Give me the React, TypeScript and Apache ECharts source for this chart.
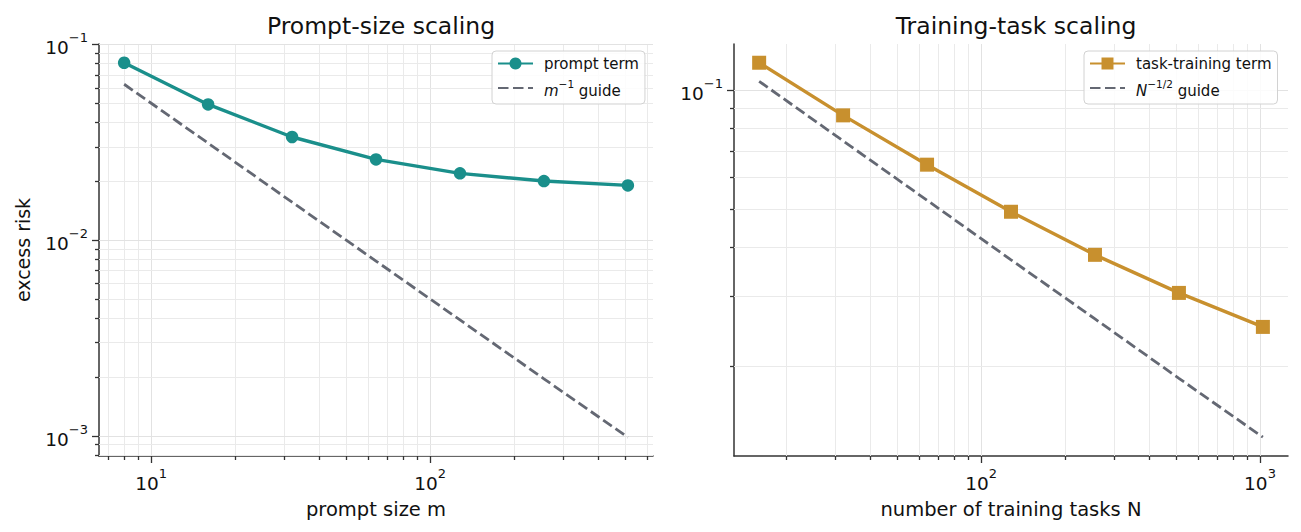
import React, { useEffect, useRef } from "react";
import * as echarts from "echarts";

// ---- data ----
const promptSizes = [8, 16, 32, 64, 128, 256, 512];
const promptTerm = [0.0805, 0.0493, 0.0336, 0.0258, 0.0219, 0.02, 0.019];
const promptGuide = [0.0625, 0.03125, 0.0156, 0.0078, 0.0039, 0.00195, 0.00098];

const taskCounts = [16, 32, 64, 128, 256, 512, 1024];
const taskTerm = [0.117, 0.0861, 0.0646, 0.0491, 0.0382, 0.0306, 0.0251];
const taskGuide = [0.105, 0.0742, 0.0525, 0.0371, 0.0263, 0.0186, 0.0132];

// ---- ticks ----
const leftXMajor = [10, 100];
const leftXMinor = [7, 8, 9, 20, 30, 40, 50, 60, 70, 80, 90, 200, 300, 400, 500, 600];
const leftYMajor = [0.001, 0.01, 0.1];
const leftYMinor = [
  0.0008, 0.0009, 0.002, 0.003, 0.004, 0.005, 0.006, 0.007, 0.008, 0.009,
  0.02, 0.03, 0.04, 0.05, 0.06, 0.07, 0.08, 0.09,
];
const rightXMajor = [100, 1000];
const rightXMinor = [20, 30, 40, 50, 60, 70, 80, 90, 200, 300, 400, 500, 600, 700, 800, 900];
const rightYMajor = [0.1];
const rightYMinor = [0.02, 0.03, 0.04, 0.05, 0.06, 0.07, 0.08, 0.09];

// ---- axis ranges ----
const leftXRange = [6.5, 630];
const leftYRange = [0.000786, 0.1004];
const rightXRange = [13.0, 1260];
const rightYRange = [0.01183, 0.1305];

// ---- texts ----
const titles = ["Prompt-size scaling", "Training-task scaling"];
const xNames = ["prompt size m", "number of training tasks N"];
const yName = "excess risk";
const seriesNames = ["prompt term", "m guide", "task-training term", "N guide"];

const FONT = "DejaVu Sans";
const TEAL = "#1a8f8b";
const GOLD = "#c8902e";
const GUIDE = "#646873";
const INK = "#111111";

const zip = (xs: number[], ys: number[]) => xs.map((x, i) => [x, ys[i]]);

const tickFormatter = (v: number) => {
  const e = Math.log10(v);
  const r = Math.round(e);
  if (Math.abs(e - r) > 1e-6) return "";
  return `{b|10}{s|${r < 0 ? "\u2212" : ""}${Math.abs(r)}}`;
};

const tickRich = {
  b: { fontSize: 18.5, fontFamily: FONT, color: INK, lineHeight: 26, verticalAlign: "bottom" },
  s: { fontSize: 13, fontFamily: FONT, color: INK, lineHeight: 14, verticalAlign: "top" },
};

function gridData(
  xMaj: number[],
  xMin: number[],
  yMaj: number[],
  yMin: number[],
  xr: number[],
  yr: number[]
) {
  return [
    ...xMaj.map((v) => [v, yr[0], 0, 1]),
    ...xMin.map((v) => [v, yr[0], 0, 0]),
    ...yMaj.map((v) => [xr[0], v, 1, 1]),
    ...yMin.map((v) => [xr[0], v, 1, 0]),
  ];
}

function gridSeries(idx: number, xr: number[], yr: number[], data: number[][]) {
  return {
    type: "custom",
    xAxisIndex: idx,
    yAxisIndex: idx,
    silent: true,
    z: 1,
    clip: false,
    data,
    renderItem: (params: any, api: any) => {
      const orient = api.value(2);
      const major = api.value(3);
      const len = major ? 7 : 4;
      const gridColor = major ? "#e2e2e2" : "#eaeaea";
      if (orient === 0) {
        const v = api.value(0);
        const top = api.coord([v, yr[1]]);
        const bot = api.coord([v, yr[0]]);
        const x = Math.round(top[0]) + 0.5;
        return {
          type: "group",
          children: [
            {
              type: "line",
              shape: { x1: x, y1: top[1], x2: x, y2: bot[1] },
              style: { stroke: gridColor, lineWidth: 1 },
            },
            {
              type: "line",
              shape: { x1: x, y1: bot[1], x2: x, y2: bot[1] + len },
              style: { stroke: "#333333", lineWidth: 1.3 },
            },
          ],
        };
      }
      const v = api.value(1);
      const l = api.coord([xr[0], v]);
      const r = api.coord([xr[1], v]);
      const y = Math.round(l[1]) + 0.5;
      return {
        type: "group",
        children: [
          {
            type: "line",
            shape: { x1: l[0], y1: y, x2: r[0], y2: y },
            style: { stroke: gridColor, lineWidth: 1 },
          },
          {
            type: "line",
            shape: { x1: l[0] - len, y1: y, x2: l[0], y2: y },
            style: { stroke: "#333333", lineWidth: 1.3 },
          },
        ],
      };
    },
  };
}

function xAxisDef(idx: number, range: number[], name: string) {
  return {
    type: "log",
    logBase: 10,
    gridIndex: idx,
    min: range[0],
    max: range[1],
    name,
    nameLocation: "middle",
    nameGap: 43,
    nameTextStyle: { fontSize: 19.5, fontFamily: FONT, color: INK },
    axisLine: { show: true, onZero: false, lineStyle: { color: "#333333", width: 1.5 } },
    axisTick: { show: false },
    splitLine: { show: false },
    minorTick: { show: false },
    minorSplitLine: { show: false },
    axisLabel: {
      formatter: tickFormatter,
      rich: tickRich,
      margin: 11,
      showMinLabel: false,
      showMaxLabel: false,
      hideOverlap: false,
    },
  };
}

function yAxisDef(idx: number, range: number[], name: string) {
  return {
    type: "log",
    logBase: 10,
    gridIndex: idx,
    min: range[0],
    max: range[1],
    name,
    nameLocation: "middle",
    nameGap: 67,
    nameTextStyle: { fontSize: 19, fontFamily: FONT, color: INK },
    axisLine: { show: true, onZero: false, lineStyle: { color: "#333333", width: 1.5 } },
    axisTick: { show: false },
    splitLine: { show: false },
    minorTick: { show: false },
    minorSplitLine: { show: false },
    axisLabel: {
      formatter: tickFormatter,
      rich: tickRich,
      margin: 11,
      showMinLabel: false,
      showMaxLabel: false,
      hideOverlap: false,
    },
  };
}

const legendRich = {
  n: { fontSize: 15, fontFamily: FONT, color: INK },
  i: { fontSize: 15, fontFamily: FONT, color: INK, fontStyle: "italic", lineHeight: 20, verticalAlign: "bottom" },
  s: { fontSize: 10.5, fontFamily: FONT, color: INK, lineHeight: 12, verticalAlign: "top" },
  t: { fontSize: 15, fontFamily: FONT, color: INK, lineHeight: 20, verticalAlign: "bottom" },
};

const legendFormatter = (name: string) => {
  if (name === seriesNames[1]) return "{i|m}{s|\u22121}{t| guide}";
  if (name === seriesNames[3]) return "{i|N}{s|\u22121/2}{t| guide}";
  return `{n|${name}}`;
};

function legendDef(left: number, markerName: string, guideName: string) {
  return {
    data: [
      { name: markerName },
      { name: guideName, itemStyle: { opacity: 0, color: "rgba(0,0,0,0)", borderWidth: 0 } },
    ],
    orient: "vertical",
    left,
    top: 51,
    padding: [5, 6, 6, 5],
    itemWidth: 35,
    itemHeight: 15,
    itemGap: 7,
    backgroundColor: "rgba(255,255,255,0.85)",
    borderColor: "#d2d2d2",
    borderWidth: 1,
    borderRadius: 4,
    formatter: legendFormatter,
    textStyle: { fontSize: 15, fontFamily: FONT, color: INK, rich: legendRich, padding: [0, 0, 0, 6] },
  };
}

export default function App() {
  const ref = useRef<HTMLDivElement>(null);
  useEffect(() => {
    document.body.style.margin = "0";
    const chart = echarts.init(ref.current!, null, { renderer: "svg" });
    chart.setOption({
      animation: false,
      backgroundColor: "#ffffff",
      textStyle: { fontFamily: FONT },
      title: [
        {
          text: titles[0],
          left: 376,
          top: 9,
          textAlign: "center",
          textStyle: { fontSize: 23.5, fontWeight: "normal", fontFamily: FONT, color: INK },
        },
        {
          text: titles[1],
          left: 1011,
          top: 9,
          textAlign: "center",
          textStyle: { fontSize: 23.5, fontWeight: "normal", fontFamily: FONT, color: INK },
        },
      ],
      grid: [
        { left: 99, top: 44, width: 554, height: 412, containLabel: false },
        { left: 734, top: 44, width: 554, height: 412, containLabel: false },
      ],
      xAxis: [xAxisDef(0, leftXRange, xNames[0]), xAxisDef(1, rightXRange, xNames[1])],
      yAxis: [yAxisDef(0, leftYRange, yName), yAxisDef(1, rightYRange, "")],
      legend: [
        legendDef(492, seriesNames[0], seriesNames[1]),
        legendDef(1084, seriesNames[2], seriesNames[3]),
      ],
      series: [
        gridSeries(
          0,
          leftXRange,
          leftYRange,
          gridData(leftXMajor, leftXMinor, leftYMajor, leftYMinor, leftXRange, leftYRange)
        ),
        gridSeries(
          1,
          rightXRange,
          rightYRange,
          gridData(rightXMajor, rightXMinor, rightYMajor, rightYMinor, rightXRange, rightYRange)
        ),
        {
          name: seriesNames[0],
          type: "line",
          xAxisIndex: 0,
          yAxisIndex: 0,
          z: 4,
          data: zip(promptSizes, promptTerm),
          symbol: "circle",
          symbolSize: 12.5,
          color: TEAL,
          itemStyle: { color: TEAL },
          lineStyle: { color: TEAL, width: 3.4 },
        },
        {
          name: seriesNames[1],
          type: "line",
          xAxisIndex: 0,
          yAxisIndex: 0,
          z: 3,
          data: zip(promptSizes, promptGuide),
          symbol: "none",
          color: GUIDE,
          lineStyle: { color: GUIDE, width: 2.8, type: [10.5, 4.5] },
        },
        {
          name: seriesNames[2],
          type: "line",
          xAxisIndex: 1,
          yAxisIndex: 1,
          z: 4,
          data: zip(taskCounts, taskTerm),
          symbol: "rect",
          symbolSize: 14,
          color: GOLD,
          itemStyle: { color: GOLD },
          lineStyle: { color: GOLD, width: 3.4 },
        },
        {
          name: seriesNames[3],
          type: "line",
          xAxisIndex: 1,
          yAxisIndex: 1,
          z: 3,
          data: zip(taskCounts, taskGuide),
          symbol: "none",
          color: GUIDE,
          lineStyle: { color: GUIDE, width: 2.8, type: [10.5, 4.5] },
        },
      ],
    });
    return () => chart.dispose();
  }, []);
  return (
    <div
      ref={ref}
      style={{ position: "absolute", left: 0, top: 0, width: 1301, height: 532 }}
    />
  );
}
